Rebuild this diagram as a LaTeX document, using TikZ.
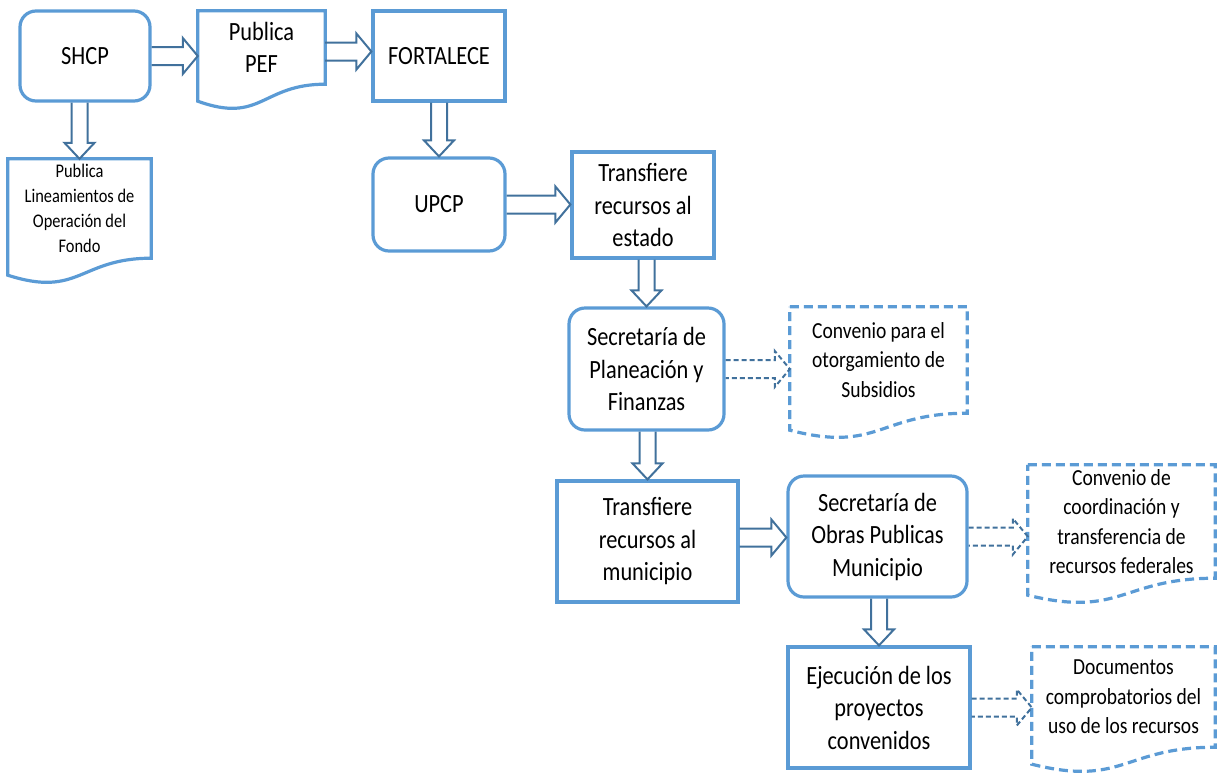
\documentclass[tikz,border=0pt]{standalone}
\usepackage{fontspec}
\setmainfont{Carlito}[FakeStretch=0.85]
\usetikzlibrary{calc}
\definecolor{boxblue}{HTML}{5B9BD5}
\definecolor{arrowblue}{HTML}{41719C}
\begin{document}
\begin{tikzpicture}[x=1pt,y=-1pt,
    box/.style={draw=boxblue,line width=3.2pt,align=center,inner sep=0pt},
    roundbox/.style={box,rounded corners=16pt},
    docnode/.style={align=center,inner sep=0pt},
    docline/.style={draw=boxblue,line width=3.2pt},
    dashdoc/.style={docline,dash pattern=on 9pt off 5pt},
    flow/.style={draw=arrowblue,line width=2pt},
    dflow/.style={dash pattern=on 5pt off 3pt},
    big/.style={font=\fontsize{26.3}{32.5}\selectfont},
    mid/.style={font=\fontsize{23}{29.5}\selectfont},
    small/.style={font=\fontsize{19.3}{25}\selectfont}]
    \newcommand{\docframe}[2][docline]{\draw[#1] (#2.north west) -- (#2.north east) -- (#2.south east)
        .. controls (#2.south) and ($(#2.south)+(0,40)$) .. ($(#2.south west)+(0,17)$) -- cycle;}
    \newcommand{\hflow}[3][]{\draw[flow,#1] let \p1=(#2), \p2=(#3) in
        (\x1,{\y1+9pt}) -- ({\x2-15pt},{\y1+9pt}) -- ({\x2-15pt},{\y1+18pt}) -- (\x2,\y1)
        -- ({\x2-15pt},{\y1-18pt}) -- ({\x2-15pt},{\y1-9pt}) -- (\x1,{\y1-9pt});}
    \newcommand{\vflow}[3][]{\draw[flow,#1] let \p1=(#2), \p2=(#3) in
        ({\x2-8pt},\y1) -- ({\x2-8pt},{\y2+16pt}) -- ({\x2-15pt},{\y2+16pt}) -- (\x2,\y2)
        -- ({\x2+15pt},{\y2+16pt}) -- ({\x2+8pt},{\y2+16pt}) -- ({\x2+8pt},\y1);}
    \useasboundingbox (0,0) rectangle (1217,772);

    % top row
    \node[roundbox,big,minimum width=130pt,minimum height=90pt] (shcp) at (85,56) {SHCP};
    \node[docnode,big,minimum width=127pt,minimum height=73pt] (pef) at (261.5,47.5) {Publica\\PEF};
    \node[box,big,minimum width=132pt,minimum height=90pt] (fort) at (439,56) {FORTALECE};
    \node[docnode,small,minimum width=143pt,minimum height=99pt] (lin) at (79.5,208.5) {Publica\\Lineamientos de\\Operación del\\Fondo};
    \node[roundbox,big,minimum width=132pt,minimum height=93pt] (upcp) at (439,204.5) {UPCP};
    \node[box,big,minimum width=142pt,minimum height=106pt] (trest) at (643,205) {Transfiere\\recursos al\\estado};
    % state level
    \node[roundbox,big,minimum width=155pt,minimum height=122pt] (spf) at (646.5,369) {Secretaría de\\Planeación y\\Finanzas};
    \node[docnode,mid,minimum width=177pt,minimum height=106pt] (conv) at (878.5,360) {Convenio para el\\otorgamiento de\\Subsidios};
    % municipal level
    \node[box,big,minimum width=181pt,minimum height=121pt] (trmun) at (647.5,541.5) {Transfiere\\recursos al\\municipio};
    \node[roundbox,big,minimum width=179pt,minimum height=121pt] (sop) at (877.5,536.5) {Secretaría de\\Obras Publicas\\Municipio};
    \node[docnode,mid,minimum width=187pt,minimum height=113pt] (coord) at (1121.5,521.5) {Convenio de\\coordinación y\\transferencia de\\recursos federales};
    \node[box,big,minimum width=182pt,minimum height=121pt] (ejec) at (879,707.5) {Ejecución de los\\proyectos\\convenidos};
    \node[docnode,mid,minimum width=183pt,minimum height=100pt] (docs) at (1123.5,697) {Documentos\\comprobatorios del\\uso de los recursos};

    \docframe{pef}
    \docframe{lin}
    \docframe[dashdoc]{conv}
    \docframe[dashdoc]{coord}
    \docframe[dashdoc]{docs}

    \hflow{shcp.east}{pef.west}
    \hflow{[yshift=-4pt]pef.east}{fort.west}
    \vflow{shcp.south}{lin.north}
    \vflow{fort.south}{upcp.north}
    \hflow{upcp.east}{trest.west}
    \vflow{trest.south}{spf.north}
    \hflow[dflow]{spf.east}{conv.west}
    \vflow{spf.south}{trmun.north}
    \hflow{[yshift=4pt]trmun.east}{sop.west}
    \hflow[dflow]{sop.east}{coord.west}
    \vflow{sop.south}{ejec.north}
    \hflow[dflow]{ejec.east}{docs.west}
\end{tikzpicture}
\end{document}
